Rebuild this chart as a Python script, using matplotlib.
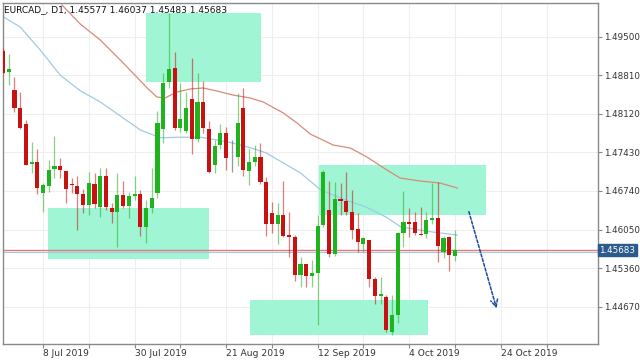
import numpy as np
import matplotlib
matplotlib.use("Agg")
import matplotlib.pyplot as plt
import matplotlib.transforms as mtransforms

# daily bars, bar index 0 = 8 Jul 2019
bar_idx = list(range(-7, 73))
opens = [1.49247, 1.48871, 1.48544, 1.48228, 1.47931, 1.47221, 1.47252,
         1.46698, 1.46828, 1.47137, 1.47191, 1.47091, 1.46869, 1.46833, 1.46680,
         1.46494, 1.46864, 1.46458, 1.47012, 1.46429, 1.46369, 1.46667, 1.46476,
         1.46649, 1.46685, 1.46101, 1.46429, 1.46698, 1.47847, 1.48682, 1.48932,
         1.47860, 1.47811, 1.48383, 1.47674, 1.48324, 1.47842, 1.47204, 1.47561,
         1.47770, 1.47330, 1.47341, 1.48228, 1.47102, 1.47257, 1.47352, 1.46894,
         1.46340, 1.46149, 1.46310, 1.45952, 1.45922, 1.45237, 1.45428, 1.45225,
         1.45268, 1.46131, 1.46399, 1.45613, 1.46590, 1.46560, 1.46369, 1.46054,
         1.45791, 1.45863, 1.45160, 1.44862, 1.44849, 1.44224, 1.44522, 1.45993,
         1.46185, 1.46190, 1.45970, 1.45970, 1.46226, 1.46251, 1.45654, 1.45911,
         1.45577]
highs = [1.49295, 1.49188, 1.48782, 1.48503, 1.48008, 1.47620, 1.47484,
         1.46887, 1.47293, 1.47727, 1.47334, 1.47095, 1.46966, 1.47012, 1.46769,
         1.47073, 1.47055, 1.47155, 1.47155, 1.46519, 1.47055, 1.46923, 1.46715,
         1.47012, 1.46757, 1.46578, 1.47145, 1.48169, 1.48843, 1.49915, 1.49218,
         1.48675, 1.48503, 1.49122, 1.48853, 1.48710, 1.47995, 1.47650, 1.47931,
         1.47888, 1.47650, 1.48485, 1.48575, 1.47490, 1.47561, 1.47591, 1.46994,
         1.46547, 1.46530, 1.46917, 1.46369, 1.45952, 1.45554, 1.45435, 1.45505,
         1.46310, 1.47114, 1.46917, 1.46905, 1.46876, 1.47084, 1.46757, 1.46340,
         1.45911, 1.45863, 1.45196, 1.45207, 1.44874, 1.44880, 1.46011, 1.46744,
         1.46429, 1.46369, 1.46458, 1.46369, 1.46876, 1.46905, 1.45934, 1.45934,
         1.46037]
lows = [1.48839, 1.48634, 1.48156, 1.47847, 1.47195, 1.47055, 1.46685,
        1.46369, 1.46726, 1.46966, 1.46966, 1.46519, 1.46698, 1.46042, 1.46351,
        1.46310, 1.46429, 1.46279, 1.46399, 1.46172, 1.45743, 1.46429, 1.46251,
        1.46578, 1.45940, 1.45804, 1.46340, 1.46608, 1.47591, 1.48575, 1.47829,
        1.47799, 1.47770, 1.47395, 1.47620, 1.47770, 1.47060, 1.47055, 1.47484,
        1.47114, 1.47084, 1.47186, 1.47012, 1.46846, 1.47186, 1.46864, 1.45934,
        1.45993, 1.45791, 1.45911, 1.45564, 1.45135, 1.45028, 1.45028, 1.45028,
        1.44343, 1.46101, 1.45564, 1.45577, 1.46310, 1.46310, 1.45875, 1.45654,
        1.45654, 1.45017, 1.44719, 1.44719, 1.44224, 1.44165, 1.44374, 1.45732,
        1.45922, 1.45952, 1.45945, 1.45893, 1.46149, 1.45475, 1.45536, 1.45314,
        1.45483]
closes = [1.48853, 1.48914, 1.48228, 1.47870, 1.47209, 1.47257, 1.46792,
          1.46846, 1.47114, 1.47186, 1.47109, 1.46780, 1.46841, 1.46685, 1.46494,
          1.46876, 1.46512, 1.47007, 1.46447, 1.46369, 1.46662, 1.46476, 1.46649,
          1.46685, 1.46101, 1.46435, 1.46608, 1.47960, 1.48664, 1.48920, 1.47860,
          1.48020, 1.48217, 1.47663, 1.48324, 1.47860, 1.47073, 1.47549, 1.47770,
          1.47334, 1.47330, 1.47960, 1.47114, 1.47252, 1.47352, 1.46894, 1.46149,
          1.46149, 1.46310, 1.45934, 1.45922, 1.45237, 1.45428, 1.45219, 1.45268,
          1.46113, 1.47084, 1.45607, 1.46590, 1.46560, 1.46369, 1.46042, 1.45832,
          1.45893, 1.45166, 1.44867, 1.44892, 1.44254, 1.44522, 1.45993, 1.46179,
          1.46149, 1.45983, 1.45952, 1.46220, 1.46256, 1.45761, 1.45893, 1.45595,
          1.45683]

# moving averages
ma_fast_idx = [-7.5, -4, -0.5, 3, 6.5, 10, 13.5, 17, 20.5, 24, 27.5, 30.5, 33, 36,
               39, 42, 45, 48.5, 52, 56.5, 60, 62.5, 67, 72.4]
ma_fast = [1.49885, 1.4967, 1.4926, 1.4881, 1.4853, 1.4833, 1.4808, 1.4783, 1.4769,
           1.4770, 1.4770, 1.4765, 1.4760, 1.4752, 1.4742, 1.4724, 1.4706, 1.4676,
           1.4661, 1.4645, 1.4627, 1.4610, 1.4602, 1.4595]
ma_slow_idx = [3.3, 6.5, 10, 13.5, 15.7, 18.2, 19.9, 21.3, 23.4, 25.7, 28, 30.4, 33.2,
               36.2, 38.5, 42, 44.4, 46.7, 50.7, 53.7, 56.6, 60.1, 62.4, 65.9, 69.4, 72.4]
ma_slow = [1.50063, 1.49724, 1.49438, 1.4908, 1.48848, 1.4858, 1.48419, 1.48401,
           1.48508, 1.48562, 1.4858, 1.48526, 1.48454, 1.48401, 1.48329, 1.48133,
           1.47954, 1.47757, 1.47561, 1.47507, 1.47346, 1.47114, 1.46971, 1.46917,
           1.46881, 1.46792]

# zones: (first bar, last bar, low price, high price)
zones = [(18.0, 38.1, 1.48687, 1.49921),
         (0.9, 29.0, 1.45523, 1.46440),
         (48.2, 77.4, 1.46310, 1.47204),
         (36.1, 67.3, 1.44165, 1.44790)]

date_pos = [0, 16, 32, 48, 64, 80]
date_labels = ["8 Jul 2019", "30 Jul 2019", "21 Aug 2019", "12 Sep 2019",
               "4 Oct 2019", "24 Oct 2019"]
price_ticks = [1.49500, 1.48810, 1.48120, 1.47430, 1.46740, 1.46050, 1.45360, 1.44670]
last_price = closes[-1]

fig = plt.figure(figsize=(6.4, 3.6), dpi=100)
ax = fig.add_axes([3/640, 16/360, 595/640, 341/360])

for x0, x1, lo, hi in zones:
    ax.add_patch(plt.Rectangle((x0, lo), x1 - x0, hi - lo, facecolor="#a0f5d4",
                               edgecolor="none", zorder=1))

ax.plot(ma_fast_idx, ma_fast, color="#9fcbe6", lw=0.9, zorder=2)
ax.plot(ma_slow_idx, ma_slow, color="#d98a7a", lw=0.9, zorder=2)

up = "#1db41d"
down = "#c81212"
for i, o, h, l, c in zip(bar_idx, opens, highs, lows, closes):
    if c > o:
        col = up
    elif c < o:
        col = down
    else:
        col = "#444444"
    ax.vlines(i, l, h, color=col, lw=0.9, alpha=0.55, zorder=3)
    ax.bar(i, max(abs(c - o), 0.00004), bottom=min(o, c), width=0.72,
           color=col, edgecolor="none", zorder=4)

ax.axhline(last_price, color="#e07a7a", lw=1.0, zorder=2)
shift = mtransforms.offset_copy(ax.transData, fig=fig, y=-1.1, units="points")
ax.plot([-10, 100], [last_price, last_price], color="#a8c4e0", lw=0.8,
        transform=shift, zorder=1.5)

ax.annotate("", xy=(79.4, 1.44594), xytext=(74.3, 1.46417),
            arrowprops=dict(arrowstyle="->,head_length=0.5,head_width=0.25",
                            color="#1c4aa0", lw=1.1, linestyle=(0, (2, 1.2))),
            zorder=5)

ax.set_xlim(-7, 97)
ax.set_ylim(1.44004, 1.50099)

ax.yaxis.tick_right()
ax.set_yticks(price_ticks)
ax.set_yticklabels(["%.5f" % p for p in price_ticks])
ax.set_xticks(date_pos)
ax.set_xticklabels(date_labels, ha="left")
ax.set_xticks([8, 24, 40, 56, 72, 88], minor=True)
ax.tick_params(axis="y", which="both", length=3, width=0.8, color="#888888",
               labelsize=6.3, labelcolor="#333333", pad=1.2)
ax.tick_params(axis="x", which="both", length=3, width=0.8, color="#888888",
               labelsize=6.6, labelcolor="#333333", pad=0.8)
ax.grid(True, which="both", color="#efefef", lw=0.8)
ax.set_axisbelow(True)
for s in ax.spines.values():
    s.set_color("#8a8a8a")
    s.set_linewidth(1.0)

ax.text(0.002, 0.982, "EURCAD_, D1, 1.45577 1.46037 1.45483 1.45683",
        transform=ax.transAxes, fontsize=6.5, va="center", ha="left",
        color="#111111", zorder=6)

lbl = mtransforms.blended_transform_factory(ax.transAxes, ax.transData)
ax.text(1.002, last_price, "%.5f" % last_price, transform=lbl, fontsize=6.3,
        color="white", va="center", ha="left", zorder=6,
        bbox=dict(boxstyle="square,pad=0.15", facecolor="#2b5b8c", edgecolor="#2b5b8c"))

fig.savefig("out.png", dpi=100)
